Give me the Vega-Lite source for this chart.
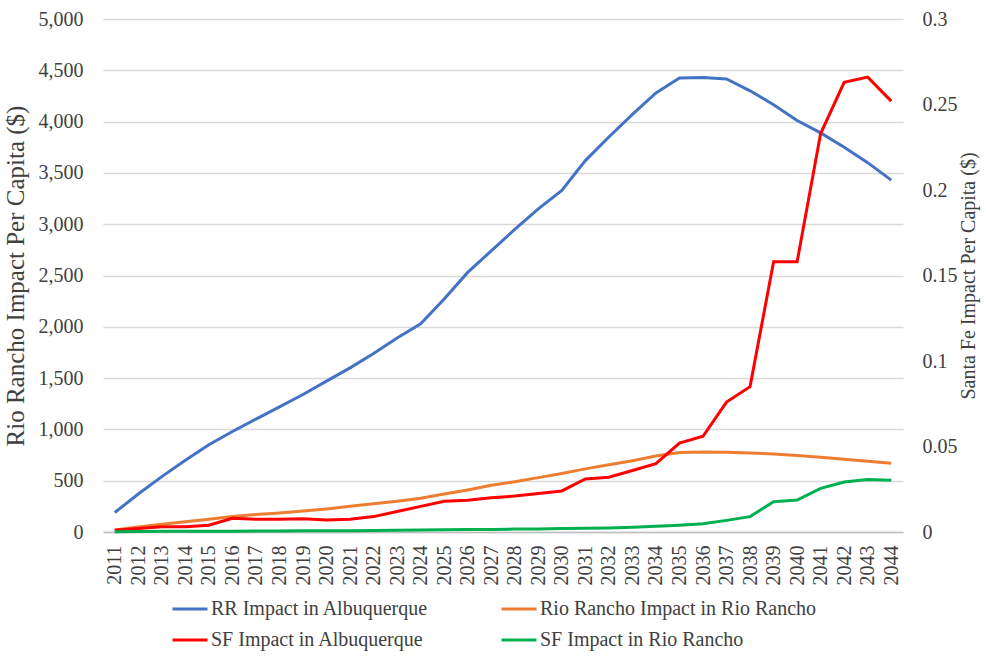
{
  "$schema": "https://vega.github.io/schema/vega-lite/v6.json",
  "autosize": "none",
  "width": 800,
  "height": 513,
  "padding": {"left": 103, "top": 19, "right": 83, "bottom": 129},
  "background": "white",
  "config": {
    "font": "'Liberation Serif', 'Times New Roman', serif",
    "view": {"stroke": null},
    "axis": {"labelFont": "'Liberation Serif', 'Times New Roman', serif", "titleFont": "'Liberation Serif', 'Times New Roman', serif", "labelColor": "#404040", "titleColor": "#404040", "labelFontSize": 20, "titleFontSize": 20, "titleFontWeight": "normal"},
    "legend": {"labelFont": "'Liberation Serif', 'Times New Roman', serif", "labelFontSize": 20, "labelColor": "#404040"}
  },
  "data": {"values": [
    {"year":"2011","series":"RR Impact in Albuquerque","value":190},
    {"year":"2012","series":"RR Impact in Albuquerque","value":370},
    {"year":"2013","series":"RR Impact in Albuquerque","value":540},
    {"year":"2014","series":"RR Impact in Albuquerque","value":700},
    {"year":"2015","series":"RR Impact in Albuquerque","value":850},
    {"year":"2016","series":"RR Impact in Albuquerque","value":980},
    {"year":"2017","series":"RR Impact in Albuquerque","value":1100},
    {"year":"2018","series":"RR Impact in Albuquerque","value":1220},
    {"year":"2019","series":"RR Impact in Albuquerque","value":1340},
    {"year":"2020","series":"RR Impact in Albuquerque","value":1470},
    {"year":"2021","series":"RR Impact in Albuquerque","value":1600},
    {"year":"2022","series":"RR Impact in Albuquerque","value":1740},
    {"year":"2023","series":"RR Impact in Albuquerque","value":1890},
    {"year":"2024","series":"RR Impact in Albuquerque","value":2030},
    {"year":"2025","series":"RR Impact in Albuquerque","value":2270},
    {"year":"2026","series":"RR Impact in Albuquerque","value":2530},
    {"year":"2027","series":"RR Impact in Albuquerque","value":2740},
    {"year":"2028","series":"RR Impact in Albuquerque","value":2950},
    {"year":"2029","series":"RR Impact in Albuquerque","value":3150},
    {"year":"2030","series":"RR Impact in Albuquerque","value":3330},
    {"year":"2031","series":"RR Impact in Albuquerque","value":3620},
    {"year":"2032","series":"RR Impact in Albuquerque","value":3850},
    {"year":"2033","series":"RR Impact in Albuquerque","value":4070},
    {"year":"2034","series":"RR Impact in Albuquerque","value":4280},
    {"year":"2035","series":"RR Impact in Albuquerque","value":4425},
    {"year":"2036","series":"RR Impact in Albuquerque","value":4430},
    {"year":"2037","series":"RR Impact in Albuquerque","value":4415},
    {"year":"2038","series":"RR Impact in Albuquerque","value":4300},
    {"year":"2039","series":"RR Impact in Albuquerque","value":4165},
    {"year":"2040","series":"RR Impact in Albuquerque","value":4010},
    {"year":"2041","series":"RR Impact in Albuquerque","value":3890},
    {"year":"2042","series":"RR Impact in Albuquerque","value":3750},
    {"year":"2043","series":"RR Impact in Albuquerque","value":3600},
    {"year":"2044","series":"RR Impact in Albuquerque","value":3430},
    {"year":"2011","series":"Rio Rancho Impact in Rio Rancho","value":20},
    {"year":"2012","series":"Rio Rancho Impact in Rio Rancho","value":50},
    {"year":"2013","series":"Rio Rancho Impact in Rio Rancho","value":75},
    {"year":"2014","series":"Rio Rancho Impact in Rio Rancho","value":100},
    {"year":"2015","series":"Rio Rancho Impact in Rio Rancho","value":125},
    {"year":"2016","series":"Rio Rancho Impact in Rio Rancho","value":150},
    {"year":"2017","series":"Rio Rancho Impact in Rio Rancho","value":170},
    {"year":"2018","series":"Rio Rancho Impact in Rio Rancho","value":185},
    {"year":"2019","series":"Rio Rancho Impact in Rio Rancho","value":205},
    {"year":"2020","series":"Rio Rancho Impact in Rio Rancho","value":225},
    {"year":"2021","series":"Rio Rancho Impact in Rio Rancho","value":250},
    {"year":"2022","series":"Rio Rancho Impact in Rio Rancho","value":275},
    {"year":"2023","series":"Rio Rancho Impact in Rio Rancho","value":300},
    {"year":"2024","series":"Rio Rancho Impact in Rio Rancho","value":330},
    {"year":"2025","series":"Rio Rancho Impact in Rio Rancho","value":370},
    {"year":"2026","series":"Rio Rancho Impact in Rio Rancho","value":410},
    {"year":"2027","series":"Rio Rancho Impact in Rio Rancho","value":455},
    {"year":"2028","series":"Rio Rancho Impact in Rio Rancho","value":490},
    {"year":"2029","series":"Rio Rancho Impact in Rio Rancho","value":530},
    {"year":"2030","series":"Rio Rancho Impact in Rio Rancho","value":570},
    {"year":"2031","series":"Rio Rancho Impact in Rio Rancho","value":615},
    {"year":"2032","series":"Rio Rancho Impact in Rio Rancho","value":655},
    {"year":"2033","series":"Rio Rancho Impact in Rio Rancho","value":695},
    {"year":"2034","series":"Rio Rancho Impact in Rio Rancho","value":740},
    {"year":"2035","series":"Rio Rancho Impact in Rio Rancho","value":775},
    {"year":"2036","series":"Rio Rancho Impact in Rio Rancho","value":780},
    {"year":"2037","series":"Rio Rancho Impact in Rio Rancho","value":778},
    {"year":"2038","series":"Rio Rancho Impact in Rio Rancho","value":770},
    {"year":"2039","series":"Rio Rancho Impact in Rio Rancho","value":760},
    {"year":"2040","series":"Rio Rancho Impact in Rio Rancho","value":745},
    {"year":"2041","series":"Rio Rancho Impact in Rio Rancho","value":728},
    {"year":"2042","series":"Rio Rancho Impact in Rio Rancho","value":710},
    {"year":"2043","series":"Rio Rancho Impact in Rio Rancho","value":690},
    {"year":"2044","series":"Rio Rancho Impact in Rio Rancho","value":670},
    {"year":"2011","series":"SF Impact in Albuquerque","value":0.001},
    {"year":"2012","series":"SF Impact in Albuquerque","value":0.002},
    {"year":"2013","series":"SF Impact in Albuquerque","value":0.003},
    {"year":"2014","series":"SF Impact in Albuquerque","value":0.003},
    {"year":"2015","series":"SF Impact in Albuquerque","value":0.004},
    {"year":"2016","series":"SF Impact in Albuquerque","value":0.008},
    {"year":"2017","series":"SF Impact in Albuquerque","value":0.0075},
    {"year":"2018","series":"SF Impact in Albuquerque","value":0.0075},
    {"year":"2019","series":"SF Impact in Albuquerque","value":0.0078},
    {"year":"2020","series":"SF Impact in Albuquerque","value":0.007},
    {"year":"2021","series":"SF Impact in Albuquerque","value":0.0075},
    {"year":"2022","series":"SF Impact in Albuquerque","value":0.009},
    {"year":"2023","series":"SF Impact in Albuquerque","value":0.012},
    {"year":"2024","series":"SF Impact in Albuquerque","value":0.015},
    {"year":"2025","series":"SF Impact in Albuquerque","value":0.018},
    {"year":"2026","series":"SF Impact in Albuquerque","value":0.0185},
    {"year":"2027","series":"SF Impact in Albuquerque","value":0.020},
    {"year":"2028","series":"SF Impact in Albuquerque","value":0.021},
    {"year":"2029","series":"SF Impact in Albuquerque","value":0.0225},
    {"year":"2030","series":"SF Impact in Albuquerque","value":0.024},
    {"year":"2031","series":"SF Impact in Albuquerque","value":0.031},
    {"year":"2032","series":"SF Impact in Albuquerque","value":0.032},
    {"year":"2033","series":"SF Impact in Albuquerque","value":0.036},
    {"year":"2034","series":"SF Impact in Albuquerque","value":0.040},
    {"year":"2035","series":"SF Impact in Albuquerque","value":0.052},
    {"year":"2036","series":"SF Impact in Albuquerque","value":0.056},
    {"year":"2037","series":"SF Impact in Albuquerque","value":0.076},
    {"year":"2038","series":"SF Impact in Albuquerque","value":0.085},
    {"year":"2039","series":"SF Impact in Albuquerque","value":0.158},
    {"year":"2040","series":"SF Impact in Albuquerque","value":0.158},
    {"year":"2041","series":"SF Impact in Albuquerque","value":0.233},
    {"year":"2042","series":"SF Impact in Albuquerque","value":0.263},
    {"year":"2043","series":"SF Impact in Albuquerque","value":0.266},
    {"year":"2044","series":"SF Impact in Albuquerque","value":0.252},
    {"year":"2011","series":"SF Impact in Rio Rancho","value":0.0002},
    {"year":"2012","series":"SF Impact in Rio Rancho","value":0.0003},
    {"year":"2013","series":"SF Impact in Rio Rancho","value":0.0004},
    {"year":"2014","series":"SF Impact in Rio Rancho","value":0.0004},
    {"year":"2015","series":"SF Impact in Rio Rancho","value":0.0005},
    {"year":"2016","series":"SF Impact in Rio Rancho","value":0.0005},
    {"year":"2017","series":"SF Impact in Rio Rancho","value":0.0006},
    {"year":"2018","series":"SF Impact in Rio Rancho","value":0.0006},
    {"year":"2019","series":"SF Impact in Rio Rancho","value":0.0007},
    {"year":"2020","series":"SF Impact in Rio Rancho","value":0.0007},
    {"year":"2021","series":"SF Impact in Rio Rancho","value":0.0008},
    {"year":"2022","series":"SF Impact in Rio Rancho","value":0.0009},
    {"year":"2023","series":"SF Impact in Rio Rancho","value":0.001},
    {"year":"2024","series":"SF Impact in Rio Rancho","value":0.0011},
    {"year":"2025","series":"SF Impact in Rio Rancho","value":0.0013},
    {"year":"2026","series":"SF Impact in Rio Rancho","value":0.0014},
    {"year":"2027","series":"SF Impact in Rio Rancho","value":0.0015},
    {"year":"2028","series":"SF Impact in Rio Rancho","value":0.0017},
    {"year":"2029","series":"SF Impact in Rio Rancho","value":0.0018},
    {"year":"2030","series":"SF Impact in Rio Rancho","value":0.002},
    {"year":"2031","series":"SF Impact in Rio Rancho","value":0.0022},
    {"year":"2032","series":"SF Impact in Rio Rancho","value":0.0024},
    {"year":"2033","series":"SF Impact in Rio Rancho","value":0.0028},
    {"year":"2034","series":"SF Impact in Rio Rancho","value":0.0033},
    {"year":"2035","series":"SF Impact in Rio Rancho","value":0.0039},
    {"year":"2036","series":"SF Impact in Rio Rancho","value":0.0048},
    {"year":"2037","series":"SF Impact in Rio Rancho","value":0.0068},
    {"year":"2038","series":"SF Impact in Rio Rancho","value":0.009},
    {"year":"2039","series":"SF Impact in Rio Rancho","value":0.0177},
    {"year":"2040","series":"SF Impact in Rio Rancho","value":0.0187},
    {"year":"2041","series":"SF Impact in Rio Rancho","value":0.0255},
    {"year":"2042","series":"SF Impact in Rio Rancho","value":0.0292},
    {"year":"2043","series":"SF Impact in Rio Rancho","value":0.0307},
    {"year":"2044","series":"SF Impact in Rio Rancho","value":0.0303}
  ]},
  "encoding": {
    "x": {"field": "year", "type": "ordinal", "scale": {"type": "point", "padding": 0.5},
      "axis": {"title": null, "labelAngle": -90, "labelAlign": "right", "labelBaseline": "middle", "labelPadding": 13, "ticks": false, "domainColor": "#BFBFBF", "domainWidth": 1.5, "labelFontSize": 20}},
    "color": {"field": "series", "type": "nominal",
      "scale": {"domain": ["RR Impact in Albuquerque", "Rio Rancho Impact in Rio Rancho", "SF Impact in Albuquerque", "SF Impact in Rio Rancho"],
                "range": ["#4472C4", "#ED7D31", "#FF0000", "#00B050"]},
      "sort": null,
      "legend": {"title": null, "orient": "none", "direction": "horizontal", "legendX": 68, "legendY": 571, "columns": 2, "columnPadding": 66, "rowPadding": 2,
                 "symbolType": "stroke", "symbolSize": 1225, "symbolStrokeWidth": 3, "labelOffset": 2, "labelLimit": 400}}
  },
  "layer": [
    {
      "transform": [{"filter": {"field": "series", "oneOf": ["RR Impact in Albuquerque", "Rio Rancho Impact in Rio Rancho"]}}],
      "mark": {"type": "line", "strokeWidth": 3},
      "encoding": {
        "y": {"field": "value", "type": "quantitative", "scale": {"domain": [0, 5000], "nice": false},
          "axis": {"title": "Rio Rancho Impact Per Capita ($)", "titleFontSize": 25, "values": [0,500,1000,1500,2000,2500,3000,3500,4000,4500,5000], "format": ",.0f", "domain": false, "ticks": false, "gridColor": "#D9D9D9", "gridWidth": 1.5, "labelPadding": 20, "titleX": -75}}
      }
    },
    {
      "transform": [{"filter": {"field": "series", "oneOf": ["SF Impact in Albuquerque", "SF Impact in Rio Rancho"]}}],
      "mark": {"type": "line", "strokeWidth": 3},
      "encoding": {
        "y": {"field": "value", "type": "quantitative", "scale": {"domain": [0, 0.3], "nice": false},
          "axis": {"orient": "right", "title": "Santa Fe Impact Per Capita ($)", "titleFontSize": 20, "values": [0,0.05,0.1,0.15,0.2,0.25,0.3], "format": ".2~f", "domain": false, "ticks": false, "grid": false, "labelPadding": 19, "titleAngle": -90, "titleX": 75}}
      }
    }
  ],
  "resolve": {"scale": {"y": "independent"}}
}
